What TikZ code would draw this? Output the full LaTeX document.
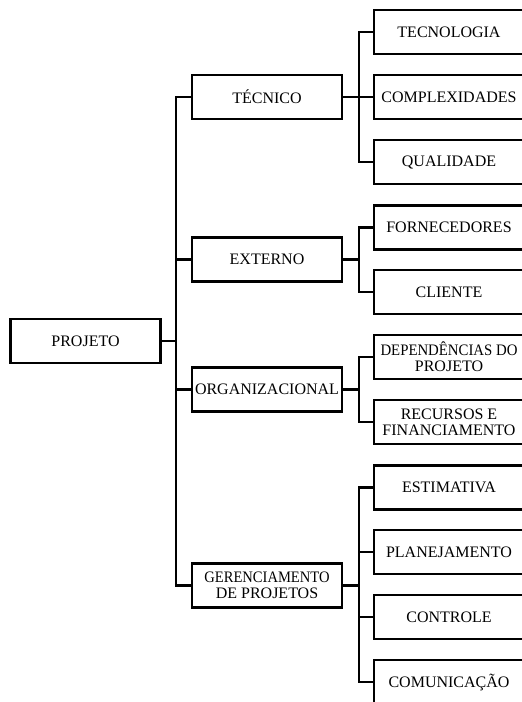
\documentclass[tikz,border=0pt]{standalone}
\usepackage{fontspec}
\setmainfont{Liberation Serif}
\begin{document}
\begin{tikzpicture}[x=1pt,y=-1pt,
  box/.style={draw,line width=2.7pt,minimum width=150pt,minimum height=44pt,inner sep=1pt,align=center,font=\fontsize{16}{16}\selectfont},
  link/.style={line width=2.7pt}]
\useasboundingbox (0,0) rectangle (522,702);
% level 0
\node[box] (proj) at (85.5,341) {PROJETO};
% level 1
\node[box] (tec) at (267,97) {TÉCNICO};
\node[box] (ext) at (267,259.5) {EXTERNO};
\node[box] (org) at (267,389.5) {ORGANIZACIONAL};
\node[box] (ger) at (267,585.5) {\scalebox{0.91}[1]{GERENCIAMENTO}\\DE PROJETOS};
% level 2
\node[box] (tecno) at (449,32) {TECNOLOGIA};
\node[box] (comp) at (449,97) {COMPLEXIDADES};
\node[box] (qual) at (449,162) {QUALIDADE};
\node[box] (forn) at (449,227.5) {FORNECEDORES};
\node[box] (cli) at (449,292) {CLIENTE};
\node[box] (dep) at (449,357) {\scalebox{0.925}[1]{DEPENDÊNCIAS DO}\\PROJETO};
\node[box] (rec) at (449,422) {RECURSOS E\\FINANCIAMENTO};
\node[box] (est) at (449,487.5) {ESTIMATIVA};
\node[box] (plan) at (449,552) {PLANEJAMENTO};
\node[box] (cont) at (449,617) {CONTROLE};
\node[box] (com) at (449,682) {COMUNICAÇÃO};
% bus coordinates
\coordinate (m) at (176,341);
\coordinate (t) at (359,97);
\coordinate (e) at (359,259.5);
\coordinate (o) at (359,389.5);
\coordinate (g) at (359,585.5);
% main bus
\draw[link] (tec.west) -| (m) |- (ger.west);
\draw[link] (proj.east) -- (m);
\draw[link] (ext.west) -- (ext.west -| m);
\draw[link] (org.west) -- (org.west -| m);
% tecnico
\draw[link] (tecno.west) -| (t) |- (qual.west);
\draw[link] (tec.east) -- (comp.west);
% externo
\draw[link] (forn.west) -| (e) |- (cli.west);
\draw[link] (ext.east) -- (e);
% organizacional
\draw[link] (dep.west) -| (o) |- (rec.west);
\draw[link] (org.east) -- (o);
% gerenciamento
\draw[link] (est.west) -| (g) |- (com.west);
\draw[link] (ger.east) -- (g);
\draw[link] (plan.west) -- (plan.west -| g);
\draw[link] (cont.west) -- (cont.west -| g);
\end{tikzpicture}
\end{document}
